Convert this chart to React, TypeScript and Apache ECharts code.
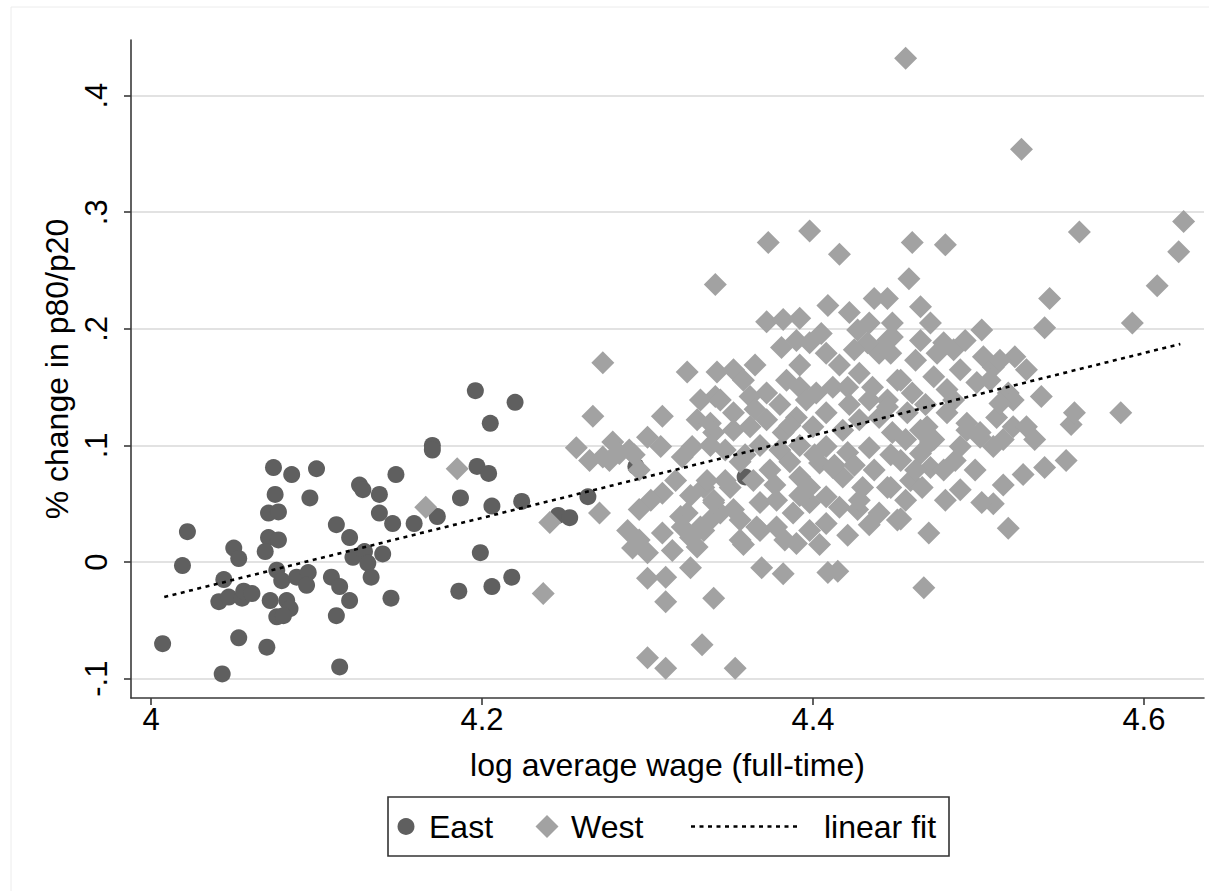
import React, { useEffect, useRef } from "react";
import * as echarts from "echarts";

// ---- data ----
const xTicks = [4, 4.2, 4.4, 4.6];
const yTicks = [-0.1, 0, 0.1, 0.2, 0.3, 0.4];

const eastX = [
  4.074, 4.085, 4.1, 4.075, 4.096, 4.071, 4.077, 4.022, 4.071, 4.077, 4.069, 4.05, 4.053, 4.019, 4.044,
  4.041, 4.047, 4.055, 4.056, 4.061, 4.076, 4.079, 4.072, 4.082, 4.084, 4.076, 4.08, 4.007, 4.053, 4.07,
  4.043, 4.088, 4.095, 4.094, 4.109, 4.114, 4.12, 4.112, 4.114, 4.112, 4.12, 4.126, 4.128, 4.138, 4.138,
  4.146, 4.148, 4.159, 4.122, 4.129, 4.131, 4.133, 4.14, 4.145, 4.196, 4.22, 4.205, 4.17, 4.17, 4.197,
  4.204, 4.187, 4.206, 4.224, 4.173, 4.199, 4.186, 4.206, 4.218, 4.246, 4.253, 4.264, 4.293, 4.359,
];
const eastY = [
  0.081, 0.075, 0.08, 0.058, 0.055, 0.042, 0.043, 0.026, 0.021, 0.019, 0.009, 0.012, 0.003, -0.003, -0.015,
  -0.034, -0.03, -0.031, -0.025, -0.027, -0.007, -0.016, -0.033, -0.033, -0.04, -0.047, -0.046, -0.07, -0.065, -0.073,
  -0.096, -0.013, -0.009, -0.02, -0.013, -0.021, -0.033, -0.046, -0.09, 0.032, 0.021, 0.066, 0.062, 0.058, 0.042,
  0.033, 0.075, 0.033, 0.004, 0.009, -0.001, -0.013, 0.007, -0.031, 0.147, 0.137, 0.119, 0.1, 0.096, 0.082,
  0.076, 0.055, 0.048, 0.052, 0.039, 0.008, -0.025, -0.021, -0.013, 0.04, 0.038, 0.056, 0.082, 0.073,
];

const westX = [
  4.185, 4.166, 4.241, 4.237, 4.267, 4.257, 4.273, 4.271, 4.3, 4.311, 4.326, 4.311, 4.34, 4.333, 4.3, 4.311, 4.353, 4.369, 4.382, 4.409, 4.415, 4.467,
  4.265, 4.273, 4.279, 4.283, 4.292, 4.3, 4.308, 4.309, 4.288, 4.291, 4.3, 4.309, 4.315, 4.324, 4.332, 4.326, 4.309, 4.277, 4.295, 4.32, 4.33, 4.321,
  4.334, 4.34, 4.321, 4.327, 4.33, 4.338, 4.324, 4.342, 4.341, 4.289, 4.344, 4.338,
  4.398, 4.373, 4.416, 4.341, 4.409, 4.372, 4.382, 4.392, 4.381, 4.39, 4.398, 4.405, 4.408, 4.422, 4.437, 4.445, 4.427, 4.434, 4.445, 4.44, 4.433,
  4.352, 4.358, 4.332, 4.344, 4.352, 4.362, 4.372, 4.384, 4.392, 4.396, 4.402, 4.412, 4.421, 4.428, 4.436, 4.445, 4.451,
  4.34, 4.352, 4.362, 4.372, 4.382, 4.39, 4.4, 4.408, 4.418, 4.428, 4.44, 4.448, 4.338, 4.368, 4.38, 4.392, 4.408, 4.421, 4.434, 4.447,
  4.336, 4.35, 4.364, 4.374, 4.392, 4.404, 4.418, 4.43, 4.445, 4.356, 4.386, 4.425, 4.437,
  4.34, 4.352, 4.368, 4.378, 4.388, 4.398, 4.408, 4.416, 4.427, 4.44, 4.451,
  4.334, 4.358, 4.368, 4.378, 4.39, 4.398, 4.408, 4.421, 4.356, 4.366,
  4.46, 4.48, 4.458, 4.465, 4.543, 4.54, 4.561, 4.502, 4.471, 4.465, 4.448, 4.448, 4.447, 4.479, 4.485, 4.475, 4.503, 4.509, 4.522, 4.529,
  4.453, 4.46, 4.473, 4.481, 4.499, 4.507, 4.518, 4.521, 4.538, 4.445, 4.457, 4.469, 4.481, 4.493, 4.501, 4.511, 4.521, 4.529, 4.556, 4.471,
  4.558, 4.586, 4.513,
  4.453, 4.459, 4.447, 4.466, 4.465, 4.473, 4.489, 4.493, 4.501, 4.509, 4.515, 4.471, 4.479, 4.465, 4.553, 4.54, 4.527, 4.515, 4.509, 4.48,
  4.502, 4.453, 4.47, 4.518,
  4.456, 4.526, 4.624, 4.621, 4.608, 4.593, 4.412, 4.398,
  4.347, 4.359, 4.386, 4.401, 4.413, 4.392, 4.377, 4.428, 4.434, 4.456, 4.462, 4.486, 4.498, 4.489, 4.468, 4.485,
  4.489, 4.462, 4.492, 4.513, 4.456, 4.534, 4.295, 4.302, 4.295, 4.317, 4.326, 4.347, 4.365, 4.38, 4.422, 4.434,
  4.356, 4.383, 4.404, 4.365, 4.392, 4.416, 4.425,
];
const westY = [
  0.08, 0.047, 0.034, -0.027, 0.125, 0.098, 0.171, 0.042, -0.014, -0.013, -0.005, -0.034, -0.031, -0.071, -0.082, -0.091, -0.091, -0.005, -0.01, -0.009, -0.008, -0.022,
  0.087, 0.09, 0.103, 0.093, 0.092, 0.107, 0.099, 0.125, 0.027, 0.012, 0.008, 0.025, 0.01, 0.042, 0.03, 0.021, 0.059, 0.087, 0.019, 0.039, 0.013, 0.03,
  0.064, 0.053, 0.09, 0.099, 0.122, 0.119, 0.163, 0.163, 0.142, 0.096, 0.042, 0.036,
  0.284, 0.274, 0.264, 0.238, 0.22, 0.206, 0.208, 0.209, 0.184, 0.19, 0.188, 0.196, 0.179, 0.214, 0.226, 0.226, 0.199, 0.205, 0.19, 0.179, 0.188,
  0.165, 0.156, 0.139, 0.139, 0.128, 0.142, 0.145, 0.156, 0.15, 0.139, 0.145, 0.15, 0.15, 0.162, 0.15, 0.139, 0.156,
  0.111, 0.113, 0.116, 0.122, 0.111, 0.124, 0.116, 0.128, 0.113, 0.122, 0.124, 0.111, 0.1, 0.1, 0.096, 0.1, 0.099, 0.094, 0.098, 0.092,
  0.07, 0.064, 0.07, 0.079, 0.073, 0.085, 0.073, 0.064, 0.064, 0.086, 0.086, 0.083, 0.079,
  0.051, 0.045, 0.051, 0.053, 0.042, 0.051, 0.056, 0.047, 0.045, 0.042, 0.036,
  0.027, 0.015, 0.027, 0.03, 0.016, 0.027, 0.033, 0.023, 0.019, 0.03,
  0.274, 0.272, 0.243, 0.219, 0.226, 0.201, 0.283, 0.199, 0.205, 0.19, 0.205, 0.193, 0.179, 0.188, 0.182, 0.179, 0.176, 0.167, 0.176, 0.165,
  0.156, 0.145, 0.159, 0.148, 0.154, 0.156, 0.145, 0.139, 0.142, 0.133, 0.128, 0.116, 0.128, 0.119, 0.111, 0.124, 0.116, 0.116, 0.118, 0.103,
  0.128, 0.128, 0.136,
  0.087, 0.07, 0.064, 0.064, 0.113, 0.105, 0.099, 0.113, 0.107, 0.099, 0.105, 0.081, 0.079, 0.093, 0.087, 0.081, 0.075, 0.066, 0.05, 0.053,
  0.051, 0.037, 0.025, 0.029,
  0.432, 0.354, 0.292, 0.266, 0.237, 0.205, 0.081, 0.064,
  0.096, 0.092, 0.117, 0.092, 0.083, 0.057, 0.066, 0.053, 0.032, 0.053, 0.079, 0.087, 0.079, 0.062, 0.135, 0.139,
  0.165, 0.173, 0.19, 0.173, 0.105, 0.105, 0.079, 0.053, 0.045, 0.07, 0.057, 0.07, 0.131, 0.135, 0.135, 0.139,
  0.036, 0.019, 0.015, 0.169, 0.169, 0.169, 0.182,
];

const fitX = [4.008, 4.622];
const fitY = [-0.03, 0.187];

const seriesNames = ["East", "West", "linear fit"];
const xTitle = "log average wage (full-time)";
const yTitle = "% change in p80/p20";

// ---- styling ----
const FONT = '"Liberation Sans", Arial, Helvetica, sans-serif';
const EAST_COLOR = "#5f5f5f";
const WEST_COLOR = "#a2a2a2";
const AXIS_COLOR = "#3a3a3a";
const GRID_COLOR = "#e2e2e2";

function fmtY(v: number): string {
  const r = Math.round(v * 10) / 10;
  if (r === 0) return "0";
  const s = Math.abs(r).toFixed(1).replace(/^0/, "");
  return (r < 0 ? "-" : "") + s;
}
function fmtX(v: number): string {
  return String(Math.round(v * 10) / 10);
}

export default function App() {
  const ref = useRef<HTMLDivElement>(null);
  useEffect(() => {
    document.body.style.margin = "0";
    if (!ref.current) return;
    const chart = echarts.init(ref.current, null, { renderer: "svg" });
    const east = eastX.map((x, i) => [x, eastY[i]]);
    const west = westX.map((x, i) => [x, westY[i]]);
    const fit = fitX.map((x, i) => [x, fitY[i]]);

    const lx = 388, ly = 797, lw = 561, lh = 59, cy = ly + lh / 2;
    const dcx = 547, dr = 11.5;
    const legendFont = `32px ${FONT}`;

    chart.setOption({
      animation: false,
      backgroundColor: "#ffffff",
      textStyle: { fontFamily: FONT },
      grid: { left: 131, right: 5, top: 40, bottom: 193, containLabel: false },
      xAxis: {
        type: "value",
        min: 3.9879,
        max: 4.6363,
        name: xTitle,
        nameLocation: "middle",
        nameGap: 51,
        nameTextStyle: { fontSize: 32, color: "#000", fontFamily: FONT },
        axisLine: { show: true, onZero: false, lineStyle: { color: AXIS_COLOR, width: 1.6 } },
        axisTick: { show: true, length: 7, customValues: xTicks, lineStyle: { color: AXIS_COLOR, width: 1.6 } },
        axisLabel: { customValues: xTicks, formatter: fmtX, fontSize: 31, color: "#000", margin: 6, fontFamily: FONT },
        splitLine: { show: false },
      },
      yAxis: {
        type: "value",
        min: -0.1166,
        max: 0.4477,
        name: yTitle,
        nameLocation: "middle",
        nameRotate: 90,
        nameGap: 44,
        nameTextStyle: { fontSize: 32, color: "#000", fontFamily: FONT },
        axisLine: { show: true, onZero: false, lineStyle: { color: AXIS_COLOR, width: 1.6 } },
        axisTick: { show: true, length: 7, customValues: yTicks, lineStyle: { color: AXIS_COLOR, width: 1.6 } },
        axisLabel: { customValues: yTicks, formatter: fmtY, rotate: 90, fontSize: 31, color: "#000", margin: 19, fontFamily: FONT },
        splitLine: { show: false },
      },
      series: [
        {
          name: "grid",
          type: "line",
          data: [],
          silent: true,
          markLine: {
            silent: true,
            z: 0,
            symbol: ["none", "none"],
            label: { show: false },
            lineStyle: { color: GRID_COLOR, width: 2, type: "solid" },
            emphasis: { disabled: true },
            data: yTicks.map((v) => ({ yAxis: v })),
          },
        },
        {
          name: seriesNames[0],
          type: "scatter",
          symbol: "circle",
          symbolSize: 17,
          itemStyle: { color: EAST_COLOR, opacity: 1 },
          data: east,
          z: 2,
        },
        {
          name: seriesNames[1],
          type: "scatter",
          symbol: "diamond",
          symbolSize: 23,
          itemStyle: { color: WEST_COLOR, opacity: 1 },
          data: west,
          z: 2,
        },
        {
          name: seriesNames[2],
          type: "line",
          data: fit,
          showSymbol: false,
          symbol: "none",
          lineStyle: { color: "#000", width: 2.6, type: [4, 4.5] },
          z: 3,
        },
      ],
      graphic: [
        {
          type: "rect",
          shape: { x: 11, y: 7, width: 1260, height: 950 },
          style: { fill: "none", stroke: "#ececec", lineWidth: 1 },
          silent: true,
          z: -1,
        },
        {
          type: "rect",
          shape: { x: lx, y: ly, width: lw, height: lh },
          style: { fill: "#fff", stroke: "#333", lineWidth: 1.6 },
          z: 10,
        },
        { type: "circle", shape: { cx: 406, cy, r: 8.5 }, style: { fill: EAST_COLOR }, z: 11 },
        {
          type: "text",
          x: 429,
          y: cy,
          style: { text: seriesNames[0], font: legendFont, fill: "#000", verticalAlign: "middle", align: "left" },
          z: 11,
        },
        {
          type: "polygon",
          shape: { points: [[dcx, cy - dr], [dcx + dr, cy], [dcx, cy + dr], [dcx - dr, cy]] },
          style: { fill: WEST_COLOR },
          z: 11,
        },
        {
          type: "text",
          x: 571,
          y: cy,
          style: { text: seriesNames[1], font: legendFont, fill: "#000", verticalAlign: "middle", align: "left" },
          z: 11,
        },
        {
          type: "line",
          shape: { x1: 691, y1: cy, x2: 801, y2: cy },
          style: { stroke: "#000", lineWidth: 2.6, lineDash: [4, 4.5] },
          z: 11,
        },
        {
          type: "text",
          x: 824,
          y: cy,
          style: { text: seriesNames[2], font: legendFont, fill: "#000", verticalAlign: "middle", align: "left" },
          z: 11,
        },
      ],
    });
    return () => chart.dispose();
  }, []);
  return <div ref={ref} style={{ width: 1209, height: 891, position: "absolute", left: 0, top: 0 }} />;
}
